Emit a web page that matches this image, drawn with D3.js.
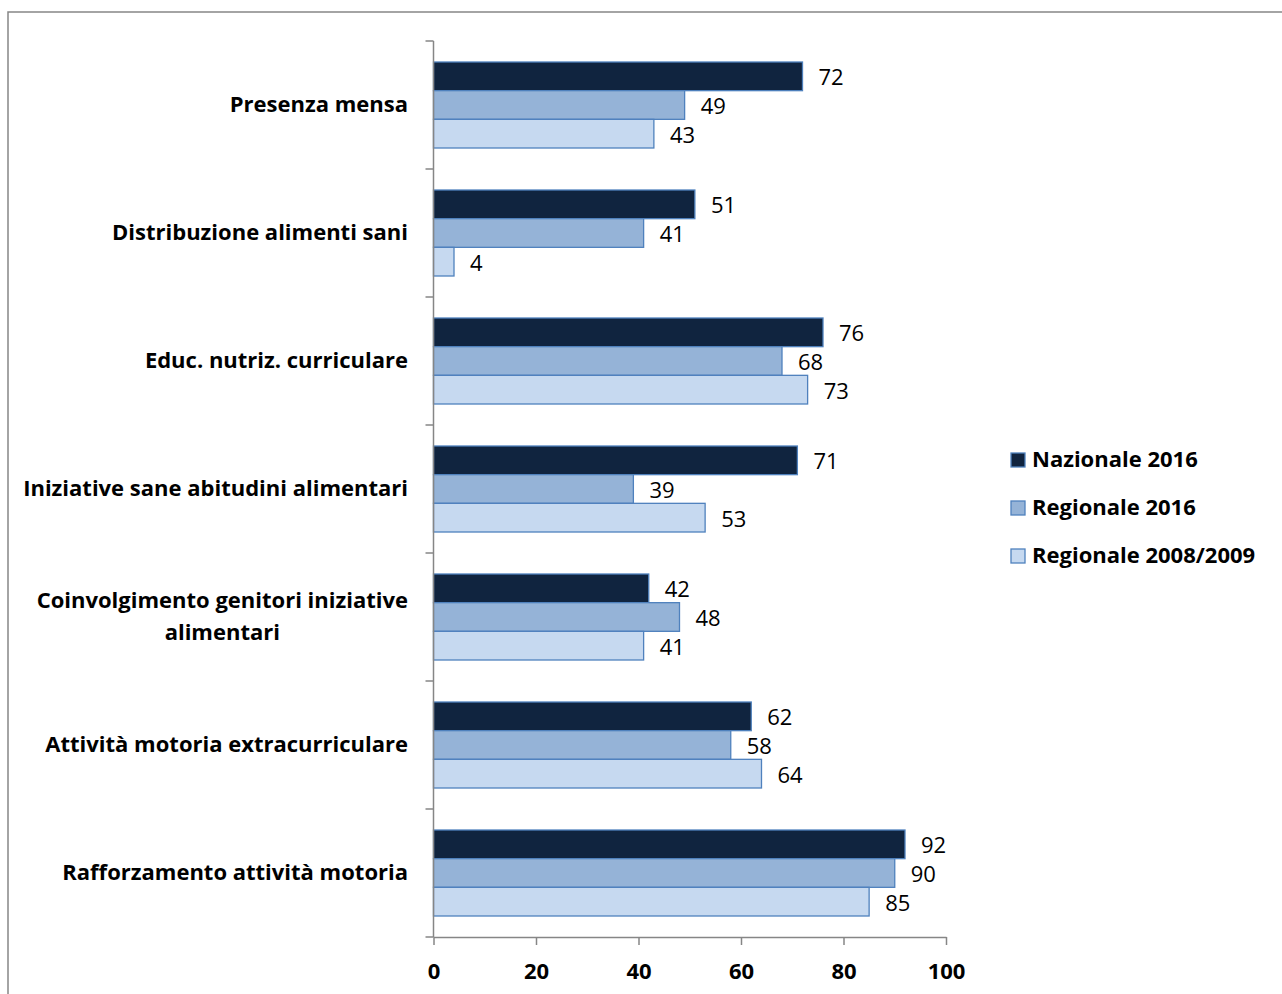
<!DOCTYPE html>
<html><head><meta charset="utf-8">
<script src="https://cdn.jsdelivr.net/npm/d3@7"></script>
<style>body{margin:0;background:#fff}svg{display:block}</style>
</head><body>
<svg id="c" width="1282" height="994"></svg>
<script>
const categories = [
  ["Presenza mensa"],
  ["Distribuzione alimenti sani"],
  ["Educ. nutriz. curriculare"],
  ["Iniziative sane abitudini alimentari"],
  ["Coinvolgimento genitori iniziative","alimentari"],
  ["Attività motoria extracurriculare"],
  ["Rafforzamento attività motoria"]
];
const seriesNames = ["Nazionale 2016","Regionale 2016","Regionale 2008/2009"];
const nazionale2016 = [72,51,76,71,42,62,92];
const regionale2016 = [49,41,68,39,48,58,90];
const regionale0809 = [43,4,73,53,41,64,85];
const xTicks = [0,20,40,60,80,100];
const colors = ["#10243f","#95b3d7","#c6d9f0"];
const series = [nazionale2016, regionale2016, regionale0809];

const svg = d3.select("#c");
const font = "'Open Sans', Lato, sans-serif";
const fs = 22;
svg.append("rect").attr("x",8).attr("y",12).attr("width",1290).attr("height",1000)
  .attr("fill","none").attr("stroke","#868686").attr("stroke-width",1.5);

const pLeft=433.5, pRight=946, pTop=41, pBottom=937;
const x = d3.scaleLinear().domain([0,100]).range([pLeft,pRight]);
const y = d3.scaleBand().domain(d3.range(categories.length)).range([pTop,pBottom]).paddingInner(0).paddingOuter(0);
const band = y.bandwidth();
const pad = 21;
const bh = (band-2*pad)/3;

series.forEach((s,si)=>{
  svg.append("g").selectAll("rect").data(s).join("rect")
    .attr("x",x(0)).attr("y",(d,i)=>y(i)+pad+si*bh)
    .attr("width",d=>x(d)-x(0)).attr("height",bh)
    .attr("fill",colors[si]).attr("stroke","#4f81bd").attr("stroke-width",1.3);
  svg.append("g").selectAll("text").data(s).join("text")
    .attr("x",d=>x(d)+16).attr("y",(d,i)=>y(i)+pad+si*bh+bh/2+3)
    .attr("dominant-baseline","middle").attr("font-family",font).attr("font-size",fs)
    .attr("fill","#000").text(d=>d);
});

// y axis
svg.append("line").attr("x1",pLeft).attr("x2",pLeft).attr("y1",pTop).attr("y2",pBottom)
  .attr("stroke","#868686").attr("stroke-width",1.5);
d3.range(categories.length+1).forEach(i=>{
  const yy = pTop+i*band;
  svg.append("line").attr("x1",pLeft-8).attr("x2",pLeft).attr("y1",yy).attr("y2",yy)
    .attr("stroke","#868686").attr("stroke-width",1.5);
});
// x axis
const xa = svg.append("g").attr("transform",`translate(0,${pBottom})`)
  .call(d3.axisBottom(x).tickValues(xTicks).tickSize(8).tickPadding(18).tickSizeOuter(0));
xa.select(".domain").attr("stroke","#868686").attr("stroke-width",1.5);
xa.selectAll(".tick line").attr("stroke","#868686").attr("stroke-width",1.5);
xa.selectAll(".tick text").attr("font-family",font).attr("font-size",fs).attr("font-weight","bold").attr("fill","#000");

// category labels
categories.forEach((lines,i)=>{
  const cy = y(i)+band/2;
  const t = svg.append("text").attr("font-family",font).attr("font-size",fs).attr("font-weight","bold").attr("fill","#000");
  if(lines.length===1){
    t.attr("x",408).attr("y",cy+1).attr("text-anchor","end").attr("dominant-baseline","middle").text(lines[0]);
  } else {
    const lh=32;
    t.attr("text-anchor","middle");
    const tmp = svg.append("text").attr("font-family",font).attr("font-size",fs).attr("font-weight","bold").text(lines[0]);
    const w = tmp.node().getComputedTextLength(); tmp.remove();
    const cx = 408 - w/2;
    lines.forEach((ln,j)=>{
      t.append("tspan").attr("x",cx).attr("y",cy+1+(j-(lines.length-1)/2)*lh).attr("dominant-baseline","middle").text(ln);
    });
  }
});

// legend
seriesNames.forEach((n,i)=>{
  const ly = 460+i*48;
  svg.append("rect").attr("x",1011).attr("y",ly-7).attr("width",14).attr("height",14)
    .attr("fill",colors[i]).attr("stroke","#4f81bd").attr("stroke-width",1.3);
  svg.append("text").attr("x",1032).attr("y",ly+1).attr("dominant-baseline","middle")
    .attr("font-family",font).attr("font-size",fs).attr("font-weight","bold").text(n);
});
</script>
</body></html>
